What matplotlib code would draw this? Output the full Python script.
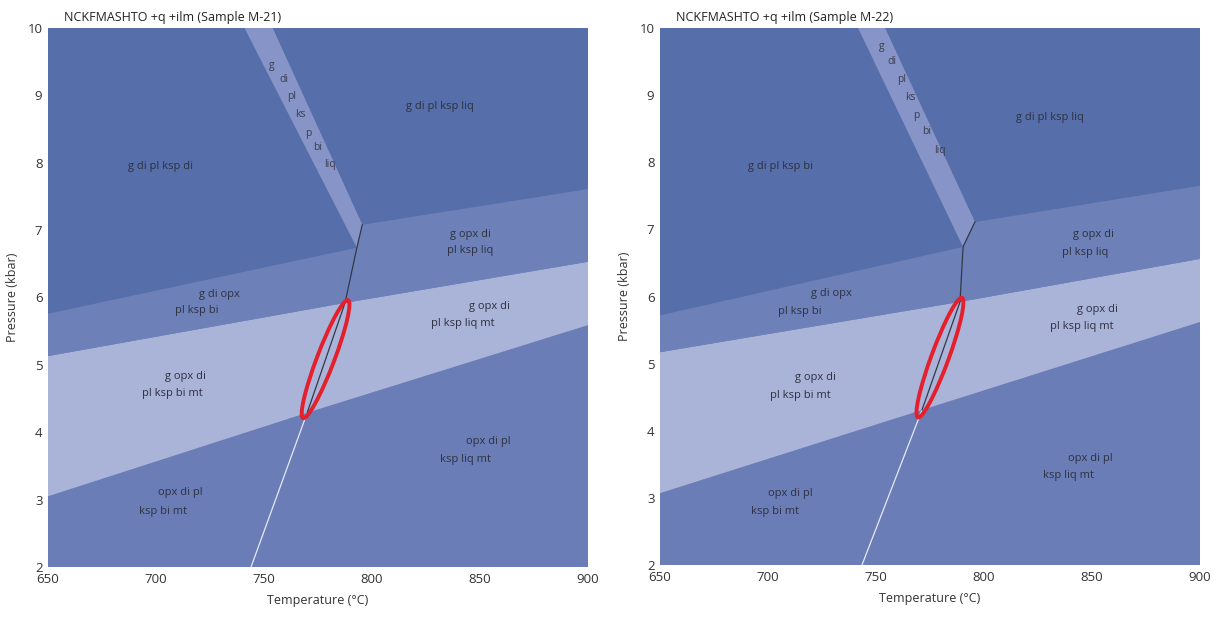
import matplotlib.pyplot as plt
from matplotlib.patches import Ellipse
import numpy as np

plt.rcParams['font.family'] = ['Open Sans', 'DejaVu Sans']

# colours of the fields
c_top = '#566ea9'
c_mid = '#6d80b8'
c_light = '#aab3d8'
c_bot = '#6a7db6'
c_sliver = '#8794c7'

# ---- Sample M-21 ----
m21_title = 'NCKFMASHTO +q +ilm (Sample M-21)'
m21_sliver_top = [741, 754]
m21_line_T = [744, 770, 787.5, 793, 795.5]
m21_line_P = [2, 4.29, 5.92, 6.74, 7.08]
m21_upper_left = [5.76, 6.74]     # P at 650 and at line
m21_upper_right = [7.08, 7.61]    # P at line and at 900
m21_light_top = [5.13, 5.92, 6.53]
m21_light_bot = [3.05, 4.29, 5.59]
m21_ellipse = [(768.1, 4.21), (788.9, 5.96)]
m21_labels = [
    (701.9, 7.94, 'g di pl ksp di'),
    (831.5, 8.83, 'g di pl ksp liq'),
    (845.4, 6.94, 'g opx di'), (845.4, 6.70, 'pl ksp liq'),
    (729.6, 6.05, 'g di opx'), (719.0, 5.80, 'pl ksp bi'),
    (854.6, 5.87, 'g opx di'), (842.1, 5.61, 'pl ksp liq mt'),
    (713.4, 4.83, 'g opx di'), (707.4, 4.58, 'pl ksp bi mt'),
    (853.7, 3.87, 'opx di pl'), (843.1, 3.60, 'ksp liq mt'),
    (711.1, 3.10, 'opx di pl'), (703.2, 2.83, 'ksp bi mt'),
]
m21_sliver_labels = [
    (753.6, 9.45, 'g'), (759.0, 9.23, 'di'), (763.0, 8.98, 'pl'),
    (766.7, 8.72, 'ks'), (770.4, 8.44, 'p'), (775.0, 8.22, 'bi'),
    (780.6, 7.97, 'liq'),
]

# ---- Sample M-22 ----
m22_title = 'NCKFMASHTO +q +ilm (Sample M-22)'
m22_sliver_top = [741.7, 754.2]
m22_line_T = [743.5, 771.3, 788.9, 790.3, 795.8]
m22_line_P = [2, 4.31, 5.92, 6.74, 7.11]
m22_upper_left = [5.72, 6.74]
m22_upper_right = [7.11, 7.65]
m22_light_top = [5.17, 5.92, 6.56]
m22_light_bot = [3.07, 4.31, 5.62]
m22_ellipse = [(769.4, 4.20), (789.8, 5.98)]
m22_labels = [
    (705.6, 7.93, 'g di pl ksp bi'),
    (830.6, 8.67, 'g di pl ksp liq'),
    (850.5, 6.92, 'g opx di'), (846.8, 6.66, 'pl ksp liq'),
    (729.6, 6.05, 'g di opx'), (714.8, 5.78, 'pl ksp bi'),
    (852.3, 5.81, 'g opx di'), (845.4, 5.55, 'pl ksp liq mt'),
    (721.8, 4.79, 'g opx di'), (714.8, 4.53, 'pl ksp bi mt'),
    (849.1, 3.59, 'opx di pl'), (838.9, 3.34, 'ksp liq mt'),
    (710.2, 3.06, 'opx di pl'), (703.2, 2.80, 'ksp bi mt'),
]
m22_sliver_labels = [
    (752.6, 9.72, 'g'), (757.3, 9.50, 'di'), (761.9, 9.23, 'pl'),
    (765.7, 8.97, 'ks'), (768.5, 8.70, 'p'), (773.5, 8.46, 'bi'),
    (779.6, 8.18, 'liq'),
]

T0, T1 = 650, 900
P0, P1 = 2, 10


def draw_panel(ax, title, sliver_top, line_T, line_P, upper_left, upper_right,
               light_top, light_bot, ell, labels, sliver_labels):
    ax.set_xlim(T0, T1)
    ax.set_ylim(P0, P1)
    tA, tB, tC, tD = line_T[1], line_T[2], line_T[3], line_T[4]
    pA, pB, pC, pD = line_P[1], line_P[2], line_P[3], line_P[4]

    # bottom field
    ax.fill([T0, T1, T1, T0], [P0, P0, P1, P1], color=c_bot, lw=0)
    # light band
    ax.fill([T0, tB, T1, T1, tA, T0],
            [light_top[0], light_top[1], light_top[2], light_bot[2], light_bot[1], light_bot[0]],
            color=c_light, lw=0)
    # middle band
    ax.fill([T0, tC, tD, T1, T1, tB, T0],
            [upper_left[0], upper_left[1], upper_right[0], upper_right[1],
             light_top[2], light_top[1], light_top[0]],
            color=c_mid, lw=0)
    # upper left field
    ax.fill([T0, sliver_top[0], tC, T0], [P1, P1, pC, upper_left[0]], color=c_top, lw=0)
    # upper right field
    ax.fill([sliver_top[1], T1, T1, tD], [P1, P1, upper_right[1], pD], color=c_top, lw=0)
    # narrow field
    ax.fill([sliver_top[0], sliver_top[1], tD, tC], [P1, P1, pD, pC], color=c_sliver, lw=0)

    # univariant line
    ax.plot(line_T[:2], line_P[:2], color='#e6e8f2', lw=0.9)
    ax.plot(line_T[1:], line_P[1:], color='#33384a', lw=0.9)

    for t, p, s in labels:
        ax.text(t, p, s, ha='center', va='center', fontsize=8, color='#2e3140')
    for t, p, s in sliver_labels:
        ax.text(t, p, s, ha='center', va='center', fontsize=7.5, color='#3a3e50')

    # red ellipse, built in axes fraction (axes are square in pixels)
    a = ax.transLimits.transform(ell[0])
    b = ax.transLimits.transform(ell[1])
    cen = (a + b) / 2
    d = b - a
    length = np.hypot(d[0], d[1])
    ang = np.degrees(np.arctan2(d[1], d[0]))
    ax.add_patch(Ellipse(cen, length, 0.032, angle=ang, transform=ax.transAxes,
                         fill=False, edgecolor='#e3202b', lw=2.8, zorder=5))

    ax.set_xticks([650, 700, 750, 800, 850, 900])
    ax.set_yticks(range(2, 11))
    ax.tick_params(length=0, labelsize=9.5, colors='#333333', pad=4)
    for s in ax.spines.values():
        s.set_visible(False)
    ax.set_xlabel('Temperature (\u00b0C)', fontsize=9, color='#333333', labelpad=6)
    ax.set_ylabel('Pressure (kbar)', fontsize=9, color='#333333', labelpad=6)
    ax.text(0.03, 1.007, title, transform=ax.transAxes, fontsize=9,
            color='#222222', ha='left', va='bottom')


fig = plt.figure(figsize=(12.23, 6.17), dpi=100)
ax1 = fig.add_axes([48 / 1223, 1 - 567 / 617, 540 / 1223, 539 / 617])
ax2 = fig.add_axes([660 / 1223, 1 - 565 / 617, 540 / 1223, 537 / 617])

draw_panel(ax1, m21_title, m21_sliver_top, m21_line_T, m21_line_P, m21_upper_left,
           m21_upper_right, m21_light_top, m21_light_bot, m21_ellipse, m21_labels,
           m21_sliver_labels)
draw_panel(ax2, m22_title, m22_sliver_top, m22_line_T, m22_line_P, m22_upper_left,
           m22_upper_right, m22_light_top, m22_light_bot, m22_ellipse, m22_labels,
           m22_sliver_labels)

fig.savefig('out.png', dpi=100)
